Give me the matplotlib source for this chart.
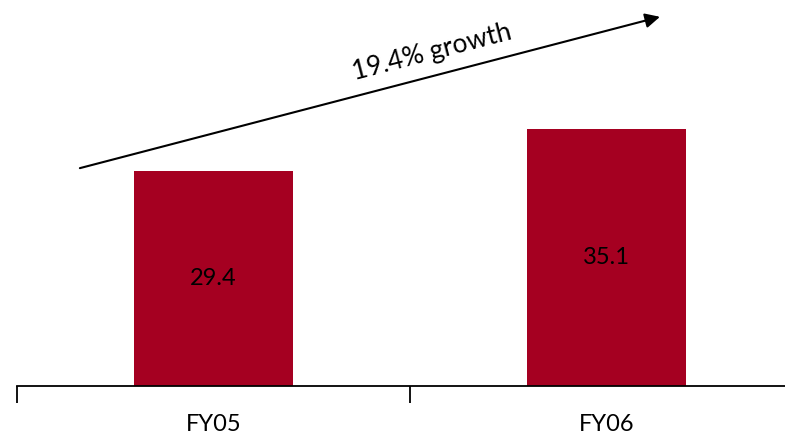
import matplotlib.pyplot as plt

plt.rcParams['font.family'] = ['Lato', 'DejaVu Sans']

# Wartości dla lat obrotowych
lata = ['FY05', 'FY06']
wartosci = [29.4, 35.1]
wzrost = '19.4% growth'

kolor = '#A50021'

fig = plt.figure(figsize=(7.85, 4.36), dpi=100)
ax = fig.add_axes([17 / 785, 50 / 436, 786 / 785, 386 / 436])

x = range(len(lata))
slupki = ax.bar(x, wartosci, width=0.405, color=kolor)

for s, v in zip(slupki, wartosci):
    ax.text(s.get_x() + s.get_width() / 2, v / 2, f'{v}',
            ha='center', va='center', fontsize=17, color='black')

ax.set_xlim(-0.5, 1.5)
ax.set_ylim(0, 52.8)

# Strzałka wzrostu z opisem
ax.annotate('', xy=(1.136, 50.5), xytext=(-0.34, 29.8),
            arrowprops=dict(arrowstyle='-|>', color='black', lw=1.5,
                            mutation_scale=22, shrinkA=0, shrinkB=0))
ax.text(0.556, 45.6, wzrost, rotation=14.6, rotation_mode='anchor',
        ha='center', va='center', fontsize=19)

# Oś X: etykiety pod słupkami, kreski na granicach kategorii
ax.set_xticks(list(x))
ax.set_xticklabels(lata, fontsize=17)
ax.tick_params(axis='x', which='major', length=0, pad=20)
ax.set_xticks([-0.5, 0.5, 1.5], minor=True)
ax.tick_params(axis='x', which='minor', length=12, width=1.3, direction='out')

ax.set_yticks([])
for s in ['top', 'right', 'left']:
    ax.spines[s].set_visible(False)
ax.spines['bottom'].set_linewidth(1.3)

fig.savefig('out.png', dpi=100)
